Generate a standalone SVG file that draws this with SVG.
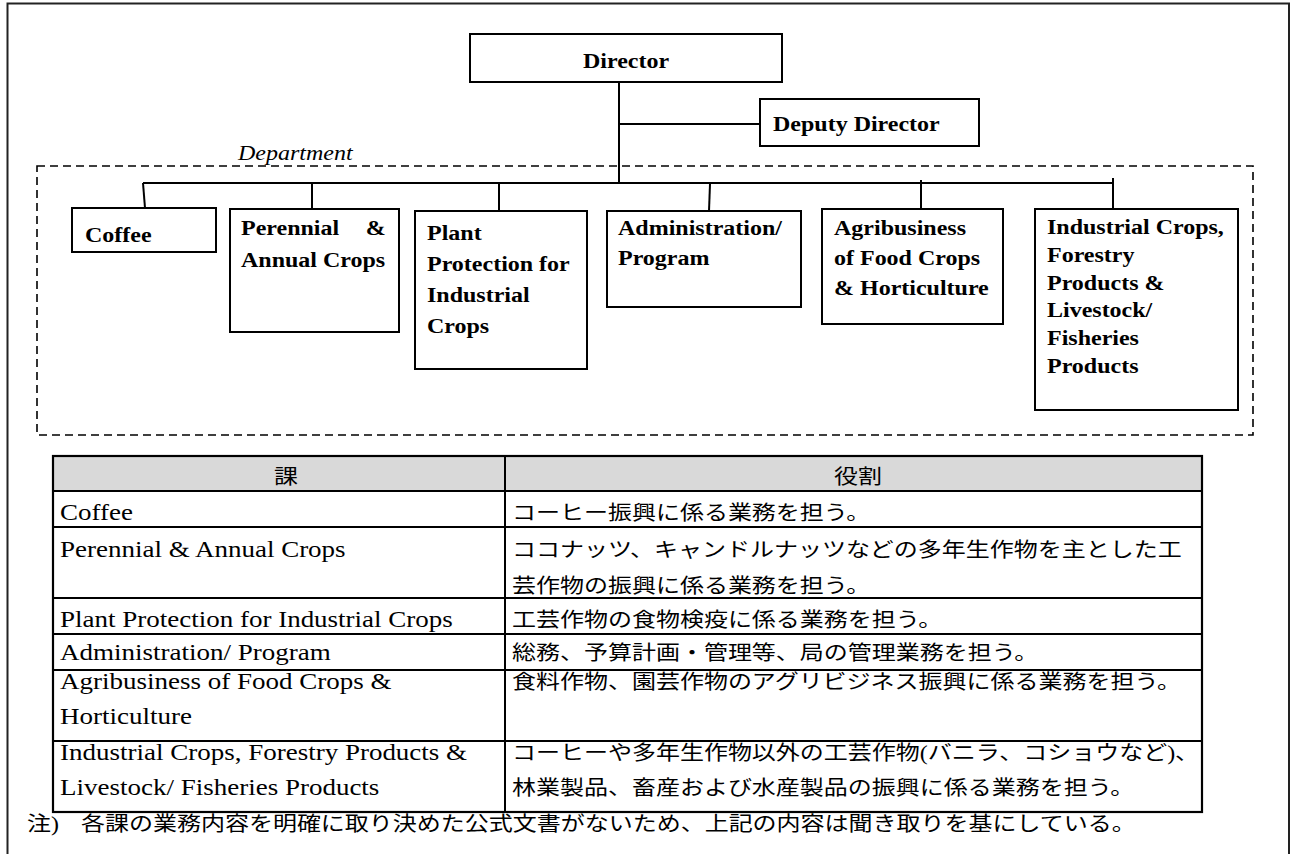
<svg xmlns="http://www.w3.org/2000/svg" width="1293" height="854" viewBox="0 0 1293 854">
<style>
.bx{fill:#fff;stroke:#000;stroke-width:2}
.ln{stroke:#000;stroke-width:2;fill:none}
.b{font-family:"Liberation Serif","Times New Roman",serif;font-weight:bold;font-size:20px;fill:#000}
.i{font-family:"Liberation Serif","Times New Roman",serif;font-style:italic;font-size:20px;fill:#000}
.t{font-family:"Liberation Serif","Times New Roman",serif;font-size:22.5px;fill:#000}
.j{font-family:"Liberation Serif","Noto Sans CJK JP",sans-serif;font-size:20px;fill:#000}
.h{font-family:"Noto Sans CJK JP",sans-serif;font-size:20px;fill:#000}
</style>
<rect x="0" y="0" width="1293" height="854" fill="#fff"/>
<rect x="7.5" y="3.5" width="1281.5" height="900" fill="none" stroke="#222" stroke-width="2"/>
<g id="department-frame">
<rect x="37" y="166" width="1216" height="269" fill="none" stroke="#000" stroke-width="1.6" stroke-dasharray="8 5"/>
<text class="i" transform="translate(238 160) scale(1.2 1)">Department</text>
</g>
<g id="connectors">
<line class="ln" x1="619" y1="82" x2="619" y2="183"/>
<line class="ln" x1="619" y1="124" x2="760" y2="124"/>
<line class="ln" x1="143" y1="183" x2="1114" y2="183"/>
<line class="ln" x1="143" y1="183" x2="145" y2="208"/>
<line class="ln" x1="312" y1="183" x2="312" y2="209"/>
<line class="ln" x1="499" y1="184" x2="499" y2="211"/>
<line class="ln" x1="710" y1="184" x2="709" y2="211"/>
<line class="ln" x1="921" y1="180" x2="921" y2="209"/>
<line class="ln" x1="1113" y1="178" x2="1113" y2="211"/>
</g>
<g id="director">
<rect class="bx" x="470" y="34" width="312" height="48"/>
<text class="b" text-anchor="middle" transform="translate(626 68) scale(1.2 1)">Director</text>
</g>
<g id="deputy-director">
<rect class="bx" x="760" y="99" width="219" height="47"/>
<text class="b" transform="translate(773 131) scale(1.2 1)">Deputy Director</text>
</g>
<g id="coffee">
<rect class="bx" x="72" y="208" width="144" height="44"/>
<text class="b" transform="translate(85 242) scale(1.2 1)">Coffee</text>
</g>
<g id="perennial">
<rect class="bx" x="230" y="209" width="169" height="123"/>
<text class="b" transform="translate(241 235) scale(1.2 1)"><tspan x="0">Perennial</tspan><tspan x="104">&amp;</tspan><tspan x="0" dy="32">Annual Crops</tspan></text>
</g>
<g id="plant-protection">
<rect class="bx" x="415" y="211" width="172" height="158"/>
<text class="b" transform="translate(427 240) scale(1.2 1)"><tspan x="0">Plant</tspan><tspan x="0" dy="31">Protection for</tspan><tspan x="0" dy="31">Industrial</tspan><tspan x="0" dy="31">Crops</tspan></text>
</g>
<g id="administration">
<rect class="bx" x="607" y="211" width="194" height="96"/>
<text class="b" transform="translate(618 235) scale(1.2 1)"><tspan x="0">Administration/</tspan><tspan x="0" dy="30">Program</tspan></text>
</g>
<g id="agribusiness">
<rect class="bx" x="822" y="209" width="181" height="115"/>
<text class="b" transform="translate(834 235) scale(1.2 1)"><tspan x="0">Agribusiness</tspan><tspan x="0" dy="30">of Food Crops</tspan><tspan x="0" dy="30">&amp; Horticulture</tspan></text>
</g>
<g id="industrial-crops">
<rect class="bx" x="1035" y="209" width="203" height="201"/>
<text class="b" transform="translate(1047 234) scale(1.2 1)"><tspan x="0">Industrial Crops,</tspan><tspan x="0" dy="27.8">Forestry</tspan><tspan x="0" dy="27.8">Products &amp;</tspan><tspan x="0" dy="27.8">Livestock/</tspan><tspan x="0" dy="27.8">Fisheries</tspan><tspan x="0" dy="27.8">Products</tspan></text>
</g>
<g id="table">
<rect x="53" y="456" width="1149" height="35" fill="#d9d9d9"/>
<rect x="53" y="456" width="1149" height="356" fill="none" stroke="#000" stroke-width="2.2"/>
<g class="ln">
<line x1="505" y1="456" x2="505" y2="812"/>
<line x1="53" y1="491" x2="1202" y2="491"/>
<line x1="53" y1="527" x2="1202" y2="527"/>
<line x1="53" y1="598" x2="1202" y2="598"/>
<line x1="53" y1="634" x2="1202" y2="634"/>
<line x1="53" y1="670" x2="1202" y2="670"/>
<line x1="53" y1="741" x2="1202" y2="741"/>
</g>
<text class="h" text-anchor="middle" transform="translate(286 484) scale(1.2 1)">課</text>
<text class="h" text-anchor="middle" transform="translate(858 484) scale(1.2 1)">役割</text>
<text class="t" transform="translate(60 520) scale(1.2 1)">Coffee</text>
<text class="t" transform="translate(60 557) scale(1.2 1)">Perennial &amp; Annual Crops</text>
<text class="t" transform="translate(60 627) scale(1.2 1)">Plant Protection for Industrial Crops</text>
<text class="t" transform="translate(60 660) scale(1.2 1)">Administration/ Program</text>
<text class="t" transform="translate(60 689) scale(1.2 1)"><tspan x="0">Agribusiness of Food Crops &amp;</tspan><tspan x="0" dy="35">Horticulture</tspan></text>
<text class="t" transform="translate(60 760) scale(1.2 1)"><tspan x="0">Industrial Crops, Forestry Products &amp;</tspan><tspan x="0" dy="35">Livestock/ Fisheries Products</tspan></text>
<text class="j" transform="translate(512 520) scale(1.2 1)">コーヒー振興に係る業務を担う。</text>
<text class="j" transform="translate(512 557) scale(1.2 1)"><tspan x="0">ココナッツ、キャンドルナッツなどの多年生作物を主とした工</tspan><tspan x="0" dy="36">芸作物の振興に係る業務を担う。</tspan></text>
<text class="j" transform="translate(512 627) scale(1.2 1)">工芸作物の食物検疫に係る業務を担う。</text>
<text class="j" transform="translate(512 660) scale(1.2 1)">総務、予算計画・管理等、局の管理業務を担う。</text>
<text class="j" transform="translate(512 689) scale(1.2 1)">食料作物、園芸作物のアグリビジネス振興に係る業務を担う。</text>
<text class="j" transform="translate(512 760) scale(1.2 1)"><tspan x="0">コーヒーや多年生作物以外の工芸作物(バニラ、コショウなど)、</tspan><tspan x="0" dy="35">林業製品、畜産および水産製品の振興に係る業務を担う。</tspan></text>
</g>
<g id="note">
<text class="j" transform="translate(27 831) scale(1.2 1)">注)</text>
<text class="j" transform="translate(81 831) scale(1.2 1)">各課の業務内容を明確に取り決めた公式文書がないため、上記の内容は聞き取りを基にしている。</text>
</g>
</svg>
